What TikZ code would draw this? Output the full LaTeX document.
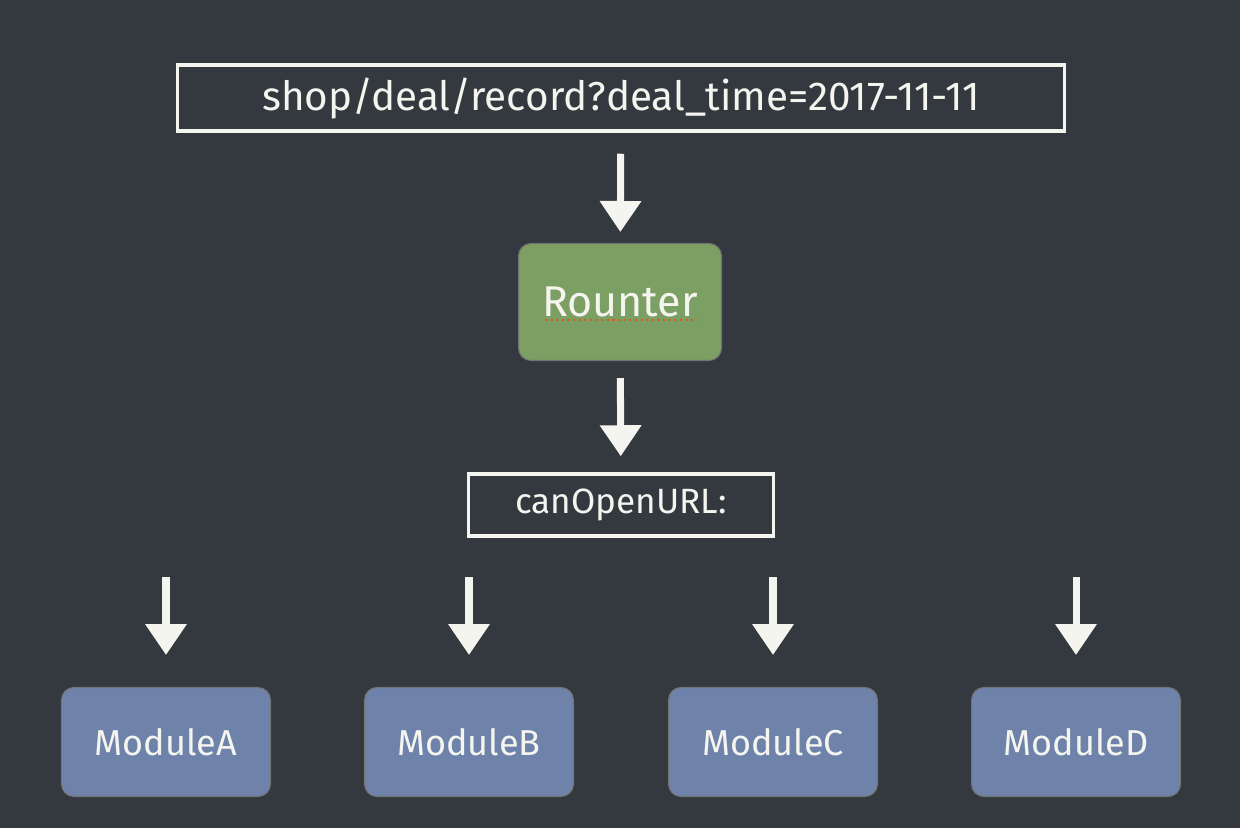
\documentclass[tikz,border=0pt]{standalone}
\usepackage{fontspec}
\setmainfont{Fira Sans}
\usepackage{tikz}
\usetikzlibrary{arrows.meta, positioning}
\definecolor{chalkbg}{RGB}{52, 57, 64}
\definecolor{chalkwhite}{RGB}{245, 245, 240}
\definecolor{routergreen}{RGB}{124, 159, 99}
\definecolor{moduleblue}{RGB}{110, 130, 170}
\definecolor{spellred}{RGB}{220, 90, 30}

\begin{document}
\begin{tikzpicture}[
    x=0.02cm, y=-0.02cm,
    chalkbox/.style={rectangle, draw=chalkwhite, line width=2pt, text=chalkwhite, font=\fontsize{20}{24}\selectfont},
    card/.style={rectangle, rounded corners=0.25cm, draw=black!55, line width=0.6pt, text=chalkwhite, font=\fontsize{20.5}{24}\selectfont, minimum width=4.18cm, minimum height=2.18cm},
    arrow/.style={-{Triangle[width=0.8cm, length=0.62cm]}, line width=4pt, draw=chalkwhite}
]
    % Board
    \fill[chalkbg] (0,0) rectangle (1240,828);
    \useasboundingbox (0,0) rectangle (1240,828);

    % Request
    \node[chalkbox, font=\fontsize{23}{27}\selectfont, minimum width=17.74cm, minimum height=1.32cm] (url) at (621,98) {shop/deal/record?deal\_time=2017-11-11};

    % Router
    \node[card, fill=routergreen, font=\fontsize{24.5}{28}\selectfont, minimum width=4.06cm, minimum height=2.34cm] (router) at (620,302) {Rounter};
    \draw[spellred, dotted, line width=1.2pt] (545,320) -- (697,320);

    % Check
    \node[chalkbox, minimum width=6.1cm, minimum height=1.24cm] (canopen) at (621,505) {canOpenURL:};

    % Arrows
    \draw[arrow, shorten <=0.42cm, shorten >=0.22cm] (url) -- (router);
    \draw[arrow, shorten <=0.34cm, shorten >=0.32cm] (router) -- (canopen);

    % Modules
    \foreach \name/\x in {A/166, B/469, C/773, D/1076} {
        \node[card, fill=moduleblue] (mod\name) at (\x,742) {Module\name};
        \coordinate (tail\name) at (\x,577);
        \draw[arrow, shorten >=0.64cm] (tail\name) -- (mod\name);
    }
\end{tikzpicture}
\end{document}
